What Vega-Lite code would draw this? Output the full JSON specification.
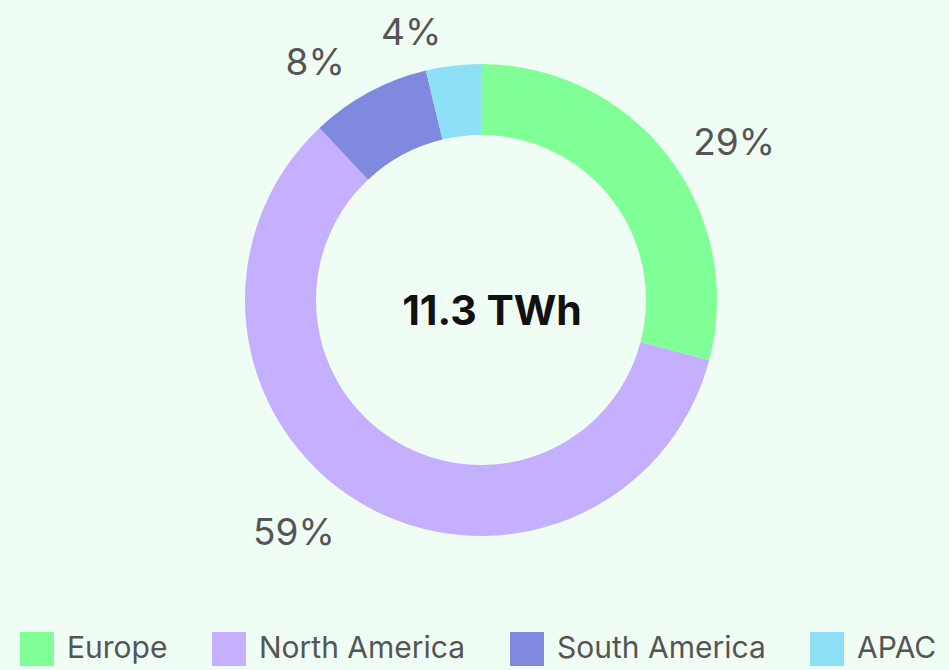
{
  "$schema": "https://vega.github.io/schema/vega-lite/v6.json",
  "width": 936,
  "height": 600,
  "autosize": {"type": "none"},
  "padding": {"left": 13, "right": 0, "top": 0, "bottom": 70},
  "background": "#f0fdf4",
  "config": {
    "view": {"stroke": null},
    "font": "Inter",
    "legend": {
      "orient": "none",
      "legendX": 7,
      "legendY": 632,
      "direction": "horizontal",
      "symbolType": "square",
      "symbolSize": 1156,
      "symbolStrokeWidth": 0,
      "labelFontSize": 30,
      "labelFont": "Inter",
      "labelColor": "#555555",
      "labelOffset": 13,
      "labelLimit": 0,
      "columnPadding": 44,
      "title": null
    }
  },
  "data": {
    "values": [
      {"region": "Europe", "share": 0.291, "order": 1},
      {"region": "North America", "share": 0.589, "order": 2},
      {"region": "South America", "share": 0.0825, "order": 3},
      {"region": "APAC", "share": 0.0375, "order": 4}
    ]
  },
  "layer": [
    {
      "mark": {"type": "arc", "outerRadius": 236, "innerRadius": 165},
      "encoding": {
        "theta": {"field": "share", "type": "quantitative", "stack": true},
        "order": {"field": "order", "type": "quantitative"},
        "color": {
          "field": "region",
          "type": "nominal",
          "scale": {
            "domain": ["Europe", "North America", "South America", "APAC"],
            "range": ["#80ff96", "#c5b0ff", "#7f89dd", "#8ee0f7"]
          },
          "legend": {"title": null}
        }
      }
    },
    {
      "mark": {"type": "text", "radius": 268, "align": "left", "baseline": "middle", "fontSize": 37, "color": "#555555", "dy": 8},
      "encoding": {
        "theta": {"field": "share", "type": "quantitative", "stack": true},
        "order": {"field": "order", "type": "quantitative"},
        "text": {
          "condition": {"test": "datum.region === 'Europe'", "field": "share", "type": "quantitative", "format": ".0%"},
          "value": ""
        }
      }
    },
    {
      "mark": {"type": "text", "radius": 270, "align": "right", "baseline": "middle", "fontSize": 37, "color": "#555555", "dx": -8, "dy": 2},
      "encoding": {
        "theta": {"field": "share", "type": "quantitative", "stack": true},
        "order": {"field": "order", "type": "quantitative"},
        "text": {
          "condition": {"test": "datum.region !== 'Europe'", "field": "share", "type": "quantitative", "format": ".0%"},
          "value": ""
        }
      }
    },
    {
      "data": {"values": [{"total": "11.3 TWh"}]},
      "mark": {"type": "text", "align": "center", "baseline": "middle", "fontSize": 41, "fontWeight": "bold", "color": "#111111", "dy": 13, "dx": 11},
      "encoding": {
        "text": {"field": "total", "type": "nominal"}
      }
    }
  ]
}
